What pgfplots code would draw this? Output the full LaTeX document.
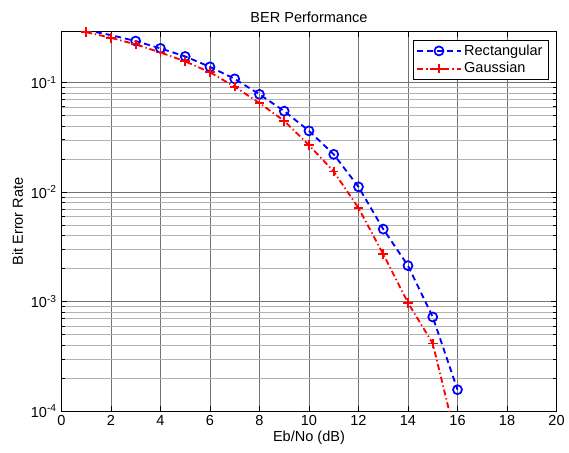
\documentclass[border=0pt]{standalone}
\usepackage{fontspec}
\setmainfont{Liberation Sans}
\usepackage{pgfplots}
\pgfplotsset{compat=1.18}

\begin{document}
\begin{tikzpicture}
\begin{axis}[
    name=ax,
    scale only axis,
    width=374.8pt,
    height=287.25pt,
    ymode=log,
    xmin=0, xmax=20,
    ymin=1e-4, ymax=0.291,
    xtick={0,2,...,20},
    ytick={1e-4,1e-3,1e-2,1e-1},
    yticklabels={10\textsuperscript{-4},10\textsuperscript{-3},10\textsuperscript{-2},10\textsuperscript{-1}},
    /pgf/number format/assume math mode=true,
    tick label style={font=\fontsize{11}{13}\selectfont},
    label style={font=\fontsize{11}{13}\selectfont},
    title style={font=\fontsize{11}{13}\selectfont, yshift=-2.5pt},
    title={BER Performance},
    xlabel={Eb/No (dB)},
    ylabel={Bit Error Rate},
    xlabel style={yshift=3pt},
    ylabel style={yshift=-1pt},
    grid=both,
    major grid style={draw=black!55, line width=0.4pt},
    minor grid style={draw=black!30, line width=0.4pt},
    axis line style={line width=0.8pt},
    tick style={black, line width=0.5pt},
    major tick length=4pt,
    minor tick length=2.5pt,
    legend cell align=left,
    legend style={at={(1,1)}, anchor=north east, xshift=-5.8pt, yshift=-6pt,
        font=\fontsize{11}{13}\selectfont, draw=black, line width=0.6pt,
        inner xsep=2.5pt, inner ysep=1.5pt, row sep=0pt},
    legend image code/.code={
        \draw[mark=none] (0cm,0cm) -- (1.15cm,0cm);
        \draw[mark indices={1}] plot coordinates {(0.575cm,0cm)};
    },
]
\addplot[blue, line width=1.4pt, dash pattern=on 4.5pt off 3pt,
    mark=o, mark size=3.4pt, mark options={solid, line width=1.3pt},
    mark indices={2,...,16}] coordinates {
    (1, 0.300) (2, 0.271) (3, 0.239) (4, 0.205) (5, 0.173) (6, 0.139)
    (7, 0.108) (8, 0.078) (9, 0.0548) (10, 0.0362) (11, 0.0221)
    (12, 0.01116) (13, 0.00459) (14, 0.00213) (15, 7.24e-4) (16, 1.57e-4)
};
\addlegendentry{Rectangular}
\addplot[red, line width=1.4pt, dash pattern=on 4.5pt off 2.2pt on 1pt off 2.2pt,
    mark=+, mark size=3.6pt, mark options={solid, line width=1.4pt},
    mark indices={1,...,15}] coordinates {
    (1, 0.288) (2, 0.256) (3, 0.223) (4, 0.188) (5, 0.156) (6, 0.124)
    (7, 0.0916) (8, 0.0649) (9, 0.0446) (10, 0.0268) (11, 0.0154)
    (12, 0.00716) (13, 0.00271) (14, 9.75e-4) (15, 4.15e-4) (16, 4.9e-5)
};
\addlegendentry{Gaussian}
\end{axis}
\path[use as bounding box] ([xshift=-46.5pt,yshift=-31.5pt]ax.south west)
    rectangle ([xshift=5.5pt,yshift=24pt]ax.north east);
\end{tikzpicture}
\end{document}
